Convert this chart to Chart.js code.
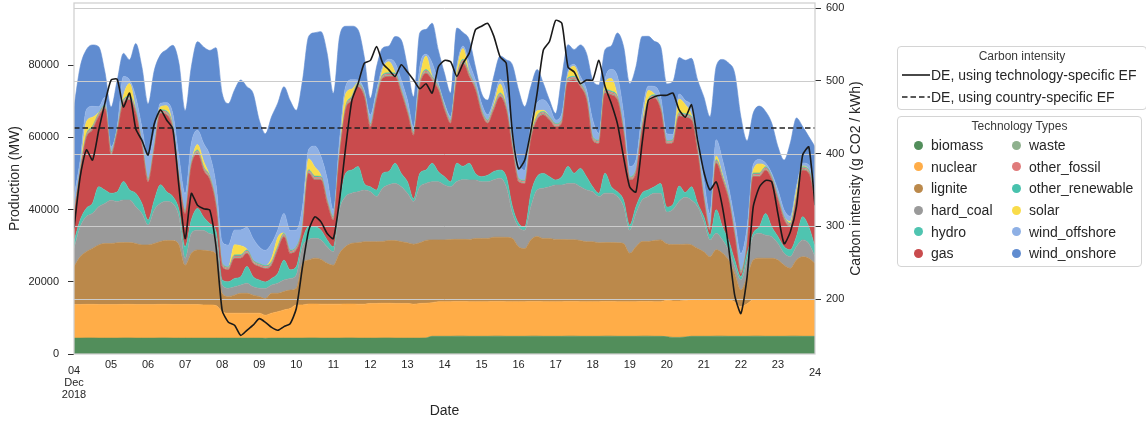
<!DOCTYPE html>
<html>
<head>
<meta charset="utf-8">
<script src="https://cdn.jsdelivr.net/npm/chart.js@4.4.1/dist/chart.umd.min.js"></script>
<style>
  html, body { margin: 0; padding: 0; background: #fff; }
  #wrap { position: relative; width: 1146px; height: 423px; overflow: hidden;
          font-family: "Liberation Sans", Arial, sans-serif; color: #262626; }
  #chart { position: absolute; left: 0; top: 0; }
  .box { position: absolute; background: #fff; border: 1px solid #d4d4d4; border-radius: 4px; box-sizing: border-box; }
  .box-title { position: absolute; left: 0; right: 0; top: 2px; text-align: center; font-size: 12px; line-height: 14px; color: #3a3a3a; }
  .row { position: absolute; font-size: 14px; line-height: 16px; white-space: nowrap; }
  .dot { position: absolute; width: 9px; height: 9px; border-radius: 50%; }
  .handle { position: absolute; }
</style>
</head>
<body>
<div id="wrap">
  <canvas id="chart" width="1146" height="423"></canvas>
  <div id="ciLegend" class="box" style="left:897px; top:46px; width:250px; height:64px;"></div>
  <div id="techLegend" class="box" style="left:897px; top:116px; width:245px; height:151px;"></div>
</div>
<script>
// 4-hourly samples, 04 Dec 2018 00:00 to 24 Dec 2018 00:00 (MW)
const startDay = 4;
const stepHours = 4;

const biomass = [
  4400, 4400, 4450, 4450, 4400, 4400,
  4400, 4400, 4450, 4450, 4400, 4400,
  4400, 4400, 4450, 4450, 4400, 4400,
  4400, 4400, 4400, 4400, 4400, 4400,
  4400, 4400, 4400, 4400, 4400, 4400,
  4400, 4350, 4400, 4400, 4400, 4400,
  4400, 4400, 4450, 4450, 4400, 4400,
  4400, 4400, 4450, 4450, 4400, 4400,
  4400, 4400, 4450, 4450, 4400, 4400,
  4400, 4400, 4400, 4450, 4900, 4900,
  4900, 4900, 4950, 4950, 4900, 4900,
  4900, 4900, 4950, 4950, 4900, 4900,
  4900, 4900, 4950, 4950, 4900, 4900,
  4900, 4900, 4950, 4950, 4900, 4900,
  4900, 4900, 4950, 4950, 4900, 4900,
  4900, 4900, 4950, 4950, 4900, 4900,
  4800, 4600, 4600, 4700, 4900, 4900,
  4900, 4900, 4950, 4950, 4900, 4900,
  4900, 4900, 4950, 4950, 4900, 4900,
  4900, 4900, 4950, 4950, 4900, 4900,
  4900
];
const nuclear = [
  9300, 9300, 9300, 9300, 9300, 9300,
  9300, 9300, 9300, 9300, 9300, 9300,
  9300, 9300, 9300, 9300, 9300, 9300,
  9300, 9300, 9300, 9200, 9200, 9000,
  7300, 6900, 6900, 6900, 6900, 6900,
  6900, 6400, 6900, 7300, 7800, 8200,
  9200, 9200, 9400, 9400, 9400, 9400,
  9400, 9400, 9400, 9400, 9400, 9400,
  9600, 9600, 9600, 9600, 9600, 9600,
  9600, 9400, 9600, 9600, 9300, 9600,
  9600, 9600, 9600, 9600, 9600, 9600,
  9600, 9600, 9600, 9600, 9600, 9600,
  9600, 9600, 9600, 9600, 9600, 9600,
  9600, 9600, 9600, 9600, 9600, 9600,
  9600, 9600, 9600, 9600, 9600, 9600,
  9600, 9600, 9600, 9600, 9600, 9600,
  10100, 10100, 10100, 10100, 10100, 10100,
  10100, 10100, 10100, 10100, 10100, 9500,
  8200, 9000, 10100, 10100, 10100, 10100,
  10100, 10100, 10100, 10100, 10100, 10100,
  10100
];
const lignite = [
  10500, 13200, 14600, 15500, 16500, 16900,
  16900, 17100, 17100, 17100, 16900, 16500,
  16500, 16900, 17400, 17700, 17700, 16500,
  10900, 14200, 15100, 15100, 14900, 14200,
  5100, 4600, 5000, 5500, 5500, 5000,
  4600, 4600, 5500, 5100, 5100, 5100,
  4600, 11500, 12200, 12700, 12400, 11300,
  10800, 14100, 15900, 16800, 17000, 17300,
  17100, 17100, 17100, 17400, 17400, 17100,
  16800, 16600, 16800, 17400, 17400, 17100,
  17100, 17200, 17200, 17200, 17200, 17500,
  17500, 17500, 17800, 17800, 17800, 17500,
  15200, 14700, 17100, 18000, 17500, 17500,
  17200, 17200, 17100, 17100, 16900, 16600,
  16600, 16300, 16300, 16300, 16300, 16100,
  13400, 15200, 16600, 16600, 16900, 17100,
  15600, 15600, 15600, 15600, 15200, 14200,
  13300, 11900, 13800, 12900, 11000, 7900,
  4600, 7400, 11000, 11500, 11500, 11500,
  11000, 9600, 8700, 11000, 11900, 11500,
  10100
];
const hardCoal = [
  5000, 8300, 9700, 9700, 10600, 11100,
  12000, 11400, 11800, 11800, 10200, 8700,
  5500, 9300, 10600, 10800, 10300, 7800,
  1900, 5500, 5500, 5500, 4800, 4600,
  2300, 2300, 2300, 2300, 2800, 2300,
  2300, 2800, 2300, 2800, 3200, 3200,
  3700, 4600, 5600, 5500, 5400, 4600,
  3700, 12000, 13900, 13900, 14100, 14300,
  13800, 12500, 14800, 15400, 15800, 15200,
  13700, 11800, 15500, 15800, 16100, 16100,
  15200, 14600, 16000, 16500, 16500, 16200,
  15700, 15700, 15900, 16300, 14000, 6900,
  5500, 5100, 9200, 12900, 13900, 14300,
  15100, 15100, 15600, 15600, 14900, 14300,
  13800, 12800, 13700, 13700, 12800, 10200,
  6400, 9200, 11500, 12500, 13100, 12900,
  8800, 9700, 12000, 13000, 12400, 11600,
  8300, 4700, 4600, 3700, 2800, 1900,
  2800, 4600, 6500, 6900, 6400, 6000,
  4600, 3300, 3200, 3700, 4700, 4100,
  1800
];
const hydro = [
  1900, 1900, 2300, 2800, 5500, 3700,
  1900, 2700, 5100, 2800, 3700, 2800,
  1400, 2700, 5100, 2700, 1900, 1900,
  3200, 3700, 6000, 3700, 2800, 1800,
  1400, 1800, 2300, 2300, 4600, 2800,
  2300, 1800, 1800, 2700, 5500, 2400,
  2300, 1900, 3600, 3200, 2700, 1900,
  1400, 1800, 6400, 6400, 7000, 1800,
  1400, 1800, 4100, 3700, 5600, 3700,
  3200, 800, 3700, 3700, 5100, 2800,
  2300, 1400, 5100, 3700, 4600, 1800,
  1400, 1800, 2300, 2300, 2800, 1900,
  1000, 900, 3700, 3700, 4100, 2800,
  1400, 2300, 4700, 2800, 5100, 3700,
  1400, 900, 5500, 1800, 1300, 1800,
  1400, 1900, 1900, 1800, 1800, 2700,
  1400, 1400, 4200, 1300, 3700, 900,
  1400, 1300, 6500, 3600, 2800, 1800,
  900, 1900, 900, 1800, 6000, 2700,
  1900, 1800, 1900, 2800, 6400, 4600,
  2800
];
const gas = [
  6900, 12900, 19400, 20300, 19400, 22600,
  10600, 16200, 21700, 24900, 22100, 15700,
  10600, 13900, 19800, 21300, 18400, 8300,
  9200, 14800, 15200, 12900, 12000, 6500,
  3700, 3300, 5600, 5100, 3700, 3700,
  3700, 3700, 3700, 6500, 6500, 4600,
  4600, 2700, 14800, 13000, 13900, 10100,
  7400, 12900, 17500, 19400, 22100, 24000,
  16600, 24900, 26300, 26300, 24000, 22200,
  18900, 17600, 24000, 26800, 23000, 22600,
  18400, 16200, 23000, 28600, 24000, 23100,
  17500, 14400, 17000, 20300, 18400, 15700,
  11500, 12000, 14700, 15700, 16200, 15700,
  14700, 14800, 23500, 25800, 22600, 21200,
  12900, 13800, 22200, 25400, 25400, 18500,
  12500, 9200, 17500, 24000, 24500, 20300,
  17500, 17100, 19400, 20800, 18500, 13800,
  4600, 1400, 12900, 13000, 11000, 6500,
  900, 1800, 15700, 13900, 12000, 13000,
  10100, 7400, 6400, 10100, 12900, 14800,
  12000
];
const waste = [
  280, 280, 300, 310, 300, 290,
  280, 280, 300, 310, 300, 290,
  280, 280, 300, 310, 300, 290,
  280, 280, 300, 310, 300, 290,
  270, 270, 290, 300, 290, 280,
  270, 270, 290, 300, 290, 280,
  280, 280, 300, 310, 300, 290,
  280, 280, 300, 310, 300, 290,
  290, 290, 310, 320, 310, 300,
  290, 290, 310, 320, 310, 300,
  290, 290, 310, 320, 310, 300,
  290, 290, 310, 320, 310, 300,
  280, 280, 300, 310, 300, 290,
  290, 290, 310, 320, 310, 300,
  290, 290, 310, 320, 310, 300,
  280, 280, 300, 310, 300, 290,
  280, 280, 300, 310, 300, 290,
  280, 280, 300, 310, 300, 290,
  270, 270, 290, 300, 290, 280,
  280, 280, 300, 310, 300, 290,
  280
];
const otherFossil = [
  320, 330, 380, 390, 370, 340,
  320, 330, 380, 390, 370, 340,
  320, 330, 380, 390, 370, 340,
  320, 330, 370, 380, 360, 330,
  300, 300, 340, 350, 340, 320,
  300, 300, 340, 350, 340, 320,
  310, 320, 370, 380, 360, 330,
  320, 330, 380, 390, 370, 340,
  330, 340, 390, 400, 380, 350,
  330, 340, 390, 400, 380, 350,
  330, 340, 390, 400, 380, 350,
  330, 340, 390, 400, 380, 350,
  320, 330, 380, 390, 370, 340,
  330, 340, 390, 400, 380, 350,
  330, 340, 390, 400, 380, 350,
  320, 330, 380, 390, 370, 340,
  320, 330, 380, 390, 370, 340,
  320, 320, 370, 380, 360, 320,
  300, 310, 370, 380, 370, 340,
  320, 320, 360, 380, 370, 340,
  330
];
const otherRenewable = [
  300, 290, 320, 330, 310, 300,
  300, 290, 320, 330, 310, 300,
  300, 290, 320, 330, 310, 300,
  300, 290, 320, 330, 310, 300,
  290, 280, 310, 320, 300, 290,
  290, 280, 310, 320, 300, 290,
  300, 290, 320, 330, 310, 300,
  300, 290, 320, 330, 310, 300,
  300, 290, 320, 330, 310, 300,
  300, 290, 320, 330, 310, 300,
  300, 290, 320, 330, 310, 300,
  300, 290, 320, 330, 310, 300,
  300, 290, 320, 330, 310, 300,
  300, 290, 320, 330, 310, 300,
  300, 290, 320, 330, 310, 300,
  300, 290, 320, 330, 310, 300,
  300, 290, 320, 330, 310, 300,
  300, 290, 320, 330, 310, 300,
  290, 280, 310, 320, 300, 290,
  300, 290, 320, 330, 310, 300,
  300
];
const solar = [
  0, 0, 3500, 2500, 200, 0,
  0, 0, 1000, 3500, 100, 0,
  0, 0, 800, 1500, 100, 0,
  0, 0, 1500, 1500, 100, 0,
  0, 0, 2800, 2500, 200, 0,
  0, 0, 1000, 2500, 100, 0,
  0, 0, 3000, 2500, 200, 0,
  0, 0, 3500, 2000, 100, 0,
  0, 0, 1500, 3000, 200, 0,
  0, 0, 1000, 3700, 200, 0,
  0, 0, 1500, 3000, 200, 0,
  0, 0, 600, 2500, 100, 0,
  0, 0, 500, 1500, 300, 0,
  0, 0, 800, 2800, 200, 0,
  0, 0, 2000, 3500, 200, 0,
  0, 0, 500, 2500, 200, 0,
  0, 0, 3700, 2500, 300, 0,
  0, 0, 1000, 500, 100, 0,
  0, 0, 800, 2500, 200, 0,
  0, 0, 500, 1500, 200, 0,
  0
];
const windOffshore = [
  4600, 2800, 3400, 3000, 1600, 2200,
  1300, 900, 5400, 1000, 3500, 4500,
  5900, 3600, 1000, 800, 3500, 5400,
  4600, 5500, 4000, 5000, 5800, 5500,
  6000, 6000, 4100, 4400, 6000, 6000,
  4600, 4200, 4100, 2100, 5400, 5400,
  4600, 5500, 2600, 5800, 5300, 6000,
  1900, 3700, 2100, 2600, 800, 1000,
  2400, 1900, 800, 700, 2600, 2700,
  2800, 1400, 3600, 500, 3600, 900,
  1000, 900, 1300, 700, 2600, 1800,
  1900, 1400, 1300, 1200, 3700, 3700,
  4200, 2800, 3300, 2200, 2900, 2800,
  1000, 1800, 1100, 500, 1700, 1900,
  4700, 1900, 700, 2500, 5400, 4600,
  2800, 2800, 3200, 1200, 2100, 2800,
  1900, 1400, 1400, 1200, 2500, 3800,
  4700, 3700, 4500, 4100, 2700, 3700,
  4700, 4600, 1500, 1200, 800, 900,
  1900, 1900, 1400, 1300, 800, 1400,
  1900
];
const windOnshore = [
  24900, 25800, 16600, 17000, 16600, 7000,
  11100, 12900, 6400, 5600, 14800, 16600,
  14800, 17500, 13400, 14700, 18900, 25900,
  23000, 21200, 24500, 26700, 29100, 37900,
  41100, 39200, 38800, 41500, 39000, 40200,
  35100, 32300, 35100, 35100, 35100, 36000,
  33200, 35000, 31300, 31400, 34600, 34600,
  32300, 28600, 16600, 14800, 13900, 9200,
  4600, 6400, 5100, 3700, 7300, 11100,
  9200, 8300, 9300, 6900, 11000, 9200,
  8300, 6500, 10600, 3700, 6400, 3700,
  2800, 4100, 6500, 6500, 9200, 18900,
  20300, 17600, 10100, 9200, 4600, 1800,
  1800, 10200, 7300, 4100, 8700, 10100,
  11000, 13400, 8300, 6500, 12000, 18500,
  23000, 25800, 21200, 13800, 12500, 13900,
  13800, 14700, 10100, 11100, 13300, 15600,
  23000, 26800, 20300, 27700, 34200, 40600,
  37800, 24000, 14300, 14800, 14300, 13900,
  12000, 13800, 20300, 18900, 10100, 7900,
  12900
];

// g CO2 / kWh
const carbonIntensity = [
  297, 368, 405, 391, 432, 469,
  501, 502, 464, 483, 434, 418,
  398, 441, 460, 446, 434, 354,
  283, 345, 329, 324, 322, 272,
  184, 168, 164, 150, 157, 164,
  173, 168, 161, 157, 162, 166,
  187, 244, 294, 313, 306, 290,
  283, 336, 409, 473, 496, 524,
  528, 547, 524, 515, 506, 522,
  512, 501, 489, 496, 483, 519,
  528, 526, 506, 524, 538, 570,
  575, 579, 561, 533, 524, 428,
  379, 391, 432, 483, 542, 554,
  583, 579, 519, 512, 496, 501,
  501, 528, 492, 469, 441, 395,
  354, 347, 414, 473, 478, 480,
  480, 483, 460, 450, 467, 418,
  375, 350, 361, 327, 272, 205,
  180, 230, 327, 354, 363, 361,
  317, 276, 292, 327, 398, 409,
  329
];
const countrySpecificEF = 435;

const techNames = ['biomass', 'nuclear', 'lignite', 'hard_coal', 'hydro', 'gas',
  'waste', 'other_fossil', 'other_renewable', 'solar', 'wind_offshore', 'wind_onshore'];
const techSeries = [biomass, nuclear, lignite, hardCoal, hydro, gas,
  waste, otherFossil, otherRenewable, solar, windOffshore, windOnshore];
const techColors = ['#528e5b', '#ffad48', '#bb894b', '#9a9a9a', '#4fc4b0', '#c94b4d',
  '#8fb18e', '#e07b7b', '#48c2ad', '#f9dc4a', '#8eb0e5', '#608cd0'];

const leftTicks = [0, 20000, 40000, 60000, 80000];
const rightTicks = [200, 300, 400, 500, 600];
const dayLabels = ['05', '06', '07', '08', '09', '10', '11', '12', '13', '14',
  '15', '16', '17', '18', '19', '20', '21', '22', '23'];
const firstDayLabel = ['04', 'Dec', '2018'];
const lastDayLabel = '24';

const FONT = '"Liberation Sans", Arial, sans-serif';
const TEXT = '#262626';
Chart.defaults.font.family = FONT;
Chart.defaults.color = TEXT;

const times = carbonIntensity.map((_, i) => startDay + i * stepHours / 24);
const points = values => values.map((v, i) => ({ x: times[i], y: v }));

const datasets = [
  {
    label: 'DE, using technology-specific EF',
    data: points(carbonIntensity),
    yAxisID: 'y2',
    borderColor: '#1a1a1a',
    borderWidth: 1.6,
    pointRadius: 0,
    fill: false,
    tension: 0.2
  },
  {
    label: 'DE, using country-specific EF',
    data: [{ x: times[0], y: countrySpecificEF }, { x: times[times.length - 1], y: countrySpecificEF }],
    yAxisID: 'y2',
    borderColor: '#222',
    borderWidth: 1.5,
    borderDash: [5.5, 3],
    pointRadius: 0,
    fill: false
  }
];
techNames.forEach((name, k) => {
  datasets.push({
    label: name,
    data: points(techSeries[k]),
    yAxisID: 'y',
    backgroundColor: techColors[k],
    borderColor: techColors[k],
    borderWidth: 0.6,
    pointRadius: 0,
    fill: k === 0 ? 'origin' : '-1',
    cubicInterpolationMode: 'monotone'
  });
});
const firstAreaIndex = 2;

// keep the plot box where matplotlib put it: no extra room for edge labels
const noEdgePadding = s => { s.paddingTop = 0; s.paddingBottom = 0; };

const overlay = {
  id: 'overlay',
  afterDatasetDraw(chart, args) {
    // the twin axis grid sits above the stacked areas, below the lines
    if (args.index !== firstAreaIndex) return;
    const { ctx, chartArea: a } = chart;
    const y2 = chart.scales.y2;
    ctx.save();
    ctx.strokeStyle = '#cccccc';
    ctx.lineWidth = 1;
    rightTicks.forEach(v => {
      const y = Math.round(y2.getPixelForValue(v)) + 0.5;
      ctx.beginPath();
      ctx.moveTo(a.left, y);
      ctx.lineTo(a.right, y);
      ctx.stroke();
    });
    ctx.restore();
  },
  afterDraw(chart) {
    const { ctx, chartArea: a } = chart;
    const x = chart.scales.x;
    ctx.save();
    ctx.strokeStyle = '#cfcfcf';
    ctx.lineWidth = 1.25;
    ctx.strokeRect(a.left, a.top, a.right - a.left, a.bottom - a.top);

    ctx.fillStyle = TEXT;
    ctx.textAlign = 'center';
    ctx.textBaseline = 'middle';
    ctx.font = '11px ' + FONT;
    dayLabels.forEach((lab, i) => {
      ctx.fillText(lab, x.getPixelForValue(startDay + 1 + i), a.bottom + 11);
    });
    firstDayLabel.forEach((lab, i) => {
      ctx.fillText(lab, x.getPixelForValue(startDay), a.bottom + 17 + i * 12);
    });
    ctx.fillText(lastDayLabel, x.getPixelForValue(24), a.bottom + 19);

    ctx.font = '14px ' + FONT;
    ctx.fillText('Date', (a.left + a.right) / 2, 411);

    ctx.translate(856, (a.top + a.bottom) / 2);
    ctx.rotate(-Math.PI / 2);
    ctx.fillText('Carbon intensity (g CO2 / kWh)', 0, 0);
    ctx.restore();
  }
};

new Chart(document.getElementById('chart'), {
  type: 'line',
  data: { datasets },
  options: {
    responsive: false,
    animation: false,
    layout: { padding: { left: 3, right: 278, top: 3, bottom: 69 } },
    plugins: { legend: { display: false }, tooltip: { enabled: false } },
    scales: {
      x: { type: 'linear', min: 4, max: 24, display: false },
      y: {
        position: 'left',
        stacked: true,
        min: 0,
        max: 97200,
        afterBuildTicks: s => { s.ticks = leftTicks.map(v => ({ value: v })); },
        afterFit: s => { s.width = 71; noEdgePadding(s); },
        ticks: { callback: v => String(v), font: { size: 11 }, color: TEXT, padding: 9 },
        grid: { drawOnChartArea: false, drawTicks: true, tickLength: 6, tickColor: '#333', tickWidth: 1 },
        border: { display: false },
        title: { display: true, text: 'Production (MW)', font: { size: 14 }, color: TEXT, padding: { top: 4, bottom: 4 } }
      },
      y2: {
        position: 'right',
        min: 124.4,
        max: 606.9,
        afterBuildTicks: s => { s.ticks = rightTicks.map(v => ({ value: v })); },
        afterFit: s => { s.width = 53; noEdgePadding(s); },
        ticks: { callback: v => String(v), font: { size: 11 }, color: TEXT, padding: 5 },
        grid: { drawOnChartArea: false, drawTicks: true, tickLength: 6, tickColor: '#333', tickWidth: 1 },
        border: { display: false }
      }
    }
  },
  plugins: [overlay]
});

// legends, matplotlib style (two boxes, tech legend filled column by column)
const ciBox = document.getElementById('ciLegend');
ciBox.innerHTML =
  '<div class="box-title">Carbon intensity</div>' +
  '<svg class="handle" style="left:4px; top:25px;" width="30" height="6"><line x1="0" y1="3" x2="28" y2="3" stroke="#1a1a1a" stroke-width="1.6"/></svg>' +
  '<div class="row" style="left:33px; top:20px;">' + datasets[0].label + '</div>' +
  '<svg class="handle" style="left:4px; top:47px;" width="30" height="6"><line x1="0" y1="3" x2="28" y2="3" stroke="#222" stroke-width="1.5" stroke-dasharray="5.5,3"/></svg>' +
  '<div class="row" style="left:33px; top:42px;">' + datasets[1].label + '</div>';

const techBox = document.getElementById('techLegend');
let html = '<div class="box-title">Technology Types</div>';
const rowTops = [20, 41.7, 63.3, 85, 106.7, 128.3];
techNames.forEach((name, k) => {
  const col = Math.floor(k / 6), row = k % 6;
  const dotLeft = col === 0 ? 15.5 : 113.5;
  const textLeft = col === 0 ? 33 : 131;
  const top = rowTops[row];
  html += '<div class="dot" style="left:' + dotLeft + 'px; top:' + (top + 3.5) + 'px; background:' + techColors[k] + ';"></div>';
  html += '<div class="row" style="left:' + textLeft + 'px; top:' + top + 'px;">' + name + '</div>';
});
techBox.innerHTML = html;
</script>
</body>
</html>
